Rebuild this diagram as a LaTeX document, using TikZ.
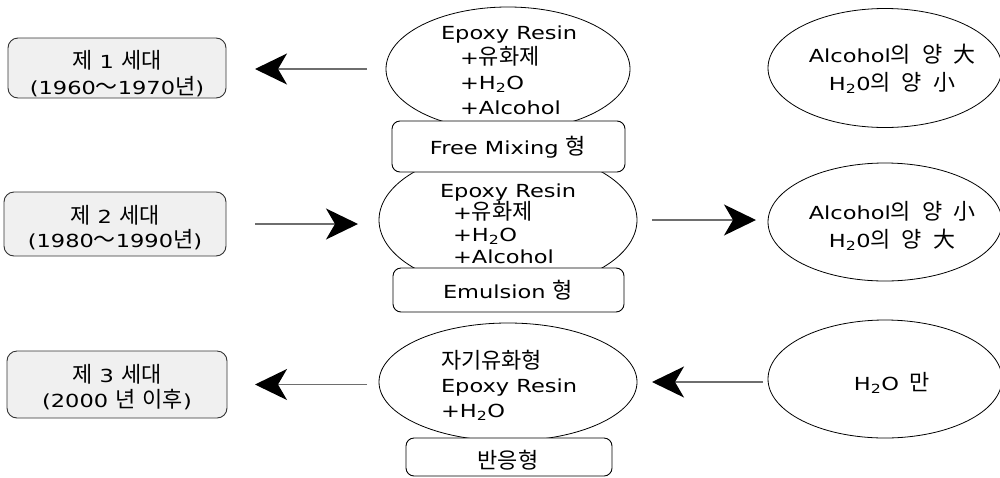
\documentclass[tikz,border=0pt]{standalone}
\usepackage{fontspec}
\setmainfont{DejaVu Sans}[FakeStretch=1.25]
\newfontfamily\kr{Noto Sans CJK KR}[Scale=1.22]
\newcommand\K[1]{{\kr #1}}
\newcommand\gap{\hspace{11pt}}
\newcommand\stackC[2]{\vtop{\baselineskip=#1\lineskiplimit=-100pt\lineskip=0pt\halign{\hfil##\hfil\cr#2\crcr}}}
\newcommand\stackL[2]{\vtop{\baselineskip=#1\lineskiplimit=-100pt\lineskip=0pt\halign{##\hfil\cr#2\crcr}}}
\usetikzlibrary{arrows.meta,shapes.geometric}
\definecolor{genfill}{HTML}{F0F0F0}
\definecolor{linegray}{HTML}{6E6E6E}
\definecolor{edge}{HTML}{333333}
\begin{document}
\begin{tikzpicture}[x=1pt,y=-1pt,
  every node/.style={font=\fontsize{18}{24}\selectfont, inner sep=0pt, outer sep=0pt},
  gen/.style={rectangle, draw=edge, line width=0.9pt, fill=genfill, rounded corners=10pt},
  kind/.style={rectangle, draw=black, line width=0.9pt, fill=white, rounded corners=8pt},
  oval/.style={ellipse, draw=black, line width=0.8pt, fill=white},
  arr/.style={draw=linegray, line width=1.3pt, -{Stealth[length=32pt, width=31pt, inset=9pt, color=black]}}]
\useasboundingbox (0,0) rectangle (1000,477);
\fill[white] (0,0) rectangle (1000,477);
% ellipses
\node[oval, minimum width=244pt, minimum height=124pt] (e1) at (508,69) {};
\node[oval, minimum width=258pt, minimum height=140pt] (e2) at (508,220) {};
\node[oval, minimum width=258pt, minimum height=118pt] (e3) at (508,382) {};
\node[oval, minimum width=234pt, minimum height=119pt] (r1) at (885,68) {};
\node[oval, minimum width=234pt, minimum height=118pt] (r2) at (885,222) {};
\node[oval, minimum width=234pt, minimum height=118pt] (r3) at (885,379) {};
% type boxes
\node[kind, minimum width=233pt, minimum height=51pt] (f1) at (508.5,146.5) {};
\node[kind, minimum width=231pt, minimum height=44pt] (f2) at (508.5,290) {};
\node[kind, minimum width=206pt, minimum height=38pt] (f3) at (509,457) {};
% generation boxes
\node[gen, minimum width=218pt, minimum height=60pt] (b1) at (117,68) {};
\node[gen, minimum width=222pt, minimum height=64pt] (b2) at (115,224) {};
\node[gen, minimum width=220pt, minimum height=67pt] (b3) at (117,384.5) {};
% texts
\node[anchor=base] (b1t) at (117,68) {\stackC{26pt}{\K{제} 1 \K{세대}\cr (1960\K{～}1970\K{년})}};
\node[anchor=base] (b2t) at (115,223) {\stackC{24pt}{\K{제} 2 \K{세대}\cr (1980\K{～}1990\K{년})}};
\node[anchor=base] (b3t) at (117,382) {\stackC{25pt}{\K{제} 3 \K{세대}\cr (2000 \K{년} \K{이후})}};
\node[anchor=base west] (e1t) at (441,39) {\stackL{25pt}{Epoxy Resin\cr \kern19pt+\K{유화제}\cr \kern19pt+H\textsubscript{2}O\cr \kern19pt+Alcohol}};
\node[anchor=base west] (e2t) at (440,197) {\stackL{22pt}{Epoxy Resin\cr \kern13pt+\K{유화제}\cr \kern13pt+H\textsubscript{2}O\cr \kern13pt+Alcohol}};
\node[anchor=base west] (e3t) at (441,368) {\stackL{24.5pt}{\K{자기유화형}\cr Epoxy Resin\cr +H\textsubscript{2}O}};
\node[anchor=base] (f1t) at (508,154) {Free Mixing \K{형}};
\node[anchor=base] (f2t) at (508,298) {Emulsion \K{형}};
\node[anchor=base] (f3t) at (508,468) {\K{반응형}};
\node[anchor=base] (r1t) at (892,62) {\stackC{28pt}{Alcohol\K{의}\gap\K{양}\gap\K{大}\cr H\textsubscript{2}0\K{의}\gap\K{양}\gap\K{小}}};
\node[anchor=base] (r2t) at (892,219) {\stackC{28pt}{Alcohol\K{의}\gap\K{양}\gap\K{小}\cr H\textsubscript{2}0\K{의}\gap\K{양}\gap\K{大}}};
\node[anchor=base] (r3t) at (892,390) {H\textsubscript{2}O\gap\K{만}};
% arrows
\draw[arr, shorten <=19pt, shorten >=29pt] (e1.west) -- (e1.west -| b1.east);
\draw[arr, shorten <=29pt, shorten >=21pt] (b2.east) -- (b2.east -| e2.west);
\draw[arr, shorten <=15pt, shorten >=12pt] (e2.east) -- (e2.east -| r2.west);
\draw[arr, shorten <=12pt, shorten >=28pt] (b3.east -| e3.west) -- (b3.east);
\draw[arr, shorten <=5pt, shorten >=15pt] (r3.west |- e3.east) -- (e3.east);
\end{tikzpicture}
\end{document}
